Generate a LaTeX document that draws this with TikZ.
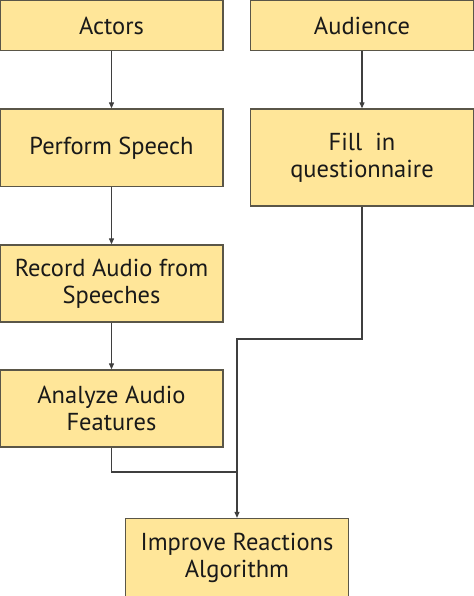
\documentclass[tikz,border=0pt]{standalone}
\usepackage{fontspec}
\setmainfont{PT Sans}
\usetikzlibrary{arrows.meta}
\definecolor{boxfill}{HTML}{FFE699}
\definecolor{boxline}{HTML}{5A5648}
\definecolor{wire}{HTML}{3F3F3F}
\begin{document}
\begin{tikzpicture}[x=1bp,y=-1bp,
  stepbox/.style={draw=boxline,fill=boxfill,line width=1.3bp,rectangle,
    minimum width=223bp,inner sep=0pt,align=center,
    font=\fontsize{24.5bp}{27bp}\selectfont,text=black!90},
  arr/.style={draw=wire,line width=1.1bp,-{Triangle[length=6bp,width=5bp]}},
  ln/.style={draw=wire,line width=1.1bp}]
\useasboundingbox (0,0) rectangle (474,596);
\node[stepbox,minimum height=50bp] (act) at (111.5,25.5) {Actors};
\node[stepbox,minimum height=50bp] (aud) at (362,25.5) {Audience};
\node[stepbox,minimum height=77.5bp] (perf) at (111.5,147.75) {Perform Speech};
\node[stepbox,minimum height=97bp] (fill) at (362,157.5) {Fill\ \ in\\questionnaire};
\node[stepbox,minimum height=77bp] (rec) at (111.5,283.5) {Record Audio from\\Speeches};
\node[stepbox,minimum height=77bp] (ana) at (111.5,408.5) {Analyze Audio\\Features};
\node[stepbox,minimum height=78bp] (imp) at (237,557.5) {Improve Reactions\\Algorithm};
\coordinate (j1) at (237,339);
\coordinate (j2) at (237,472);
\draw[arr] (act.south) -- (perf.north);
\draw[arr] (aud.south) -- (fill.north);
\draw[arr] (perf.south) -- (rec.north);
\draw[arr] (rec.south) -- (ana.north);
\draw[arr] (fill.south) |- (j1) -- (imp.north);
\draw[ln] (ana.south) |- (j2);
\end{tikzpicture}
\end{document}
